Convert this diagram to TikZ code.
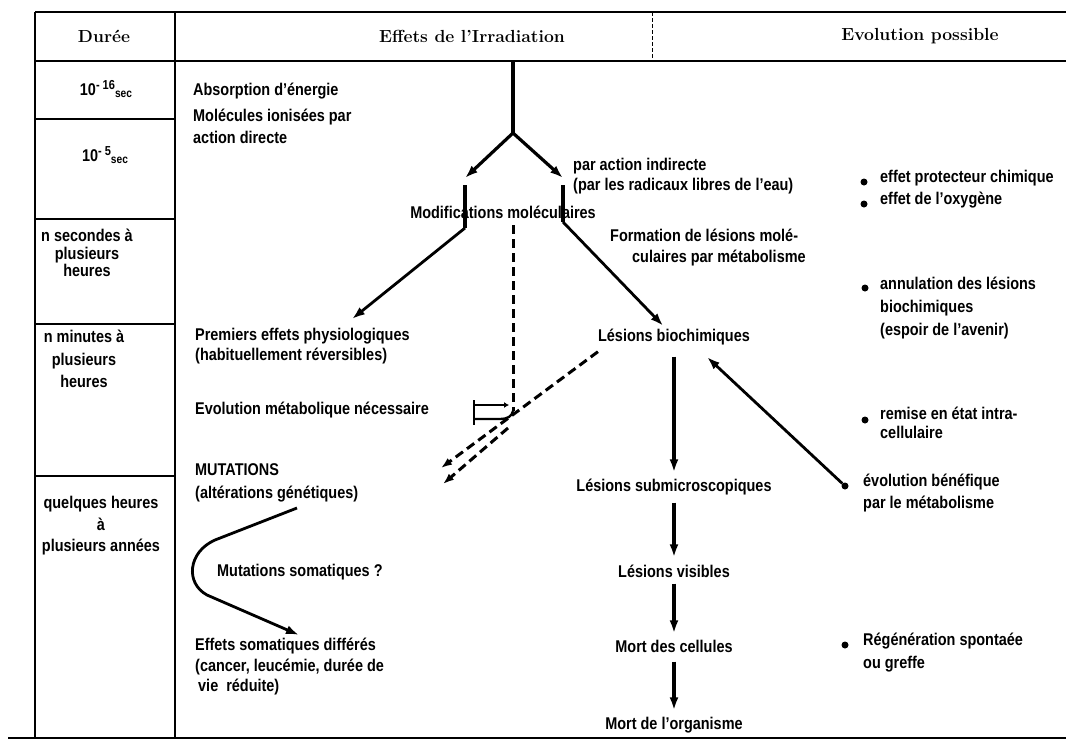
\documentclass[tikz,border=0pt]{standalone}
\usepackage{fontspec}
\usetikzlibrary{arrows.meta}
\newfontfamily\lsans{Liberation Sans Bold}[FakeStretch=0.85]
\newcommand{\mystrut}{\rule[-5pt]{0pt}{19pt}}
\newcommand{\lsz}[1]{\lsans\fontsize{17}{#1}\selectfont}
\begin{document}
\begin{tikzpicture}[x=1pt,y=-1pt,
  rule/.style={line width=2.2pt},
  lbl/.style={font=\lsz{20}, inner sep=0pt, align=left, execute at begin node=\mystrut},
  hdr/.style={font=\fontsize{17.5}{20}\selectfont\bfseries, inner sep=0pt},
  arr/.style={line width=3.2pt, -{Latex[length=13pt,width=9pt]}},
  shaft/.style={line width=3.4pt},
  dsh/.style={line width=3pt, dash pattern=on 9pt off 5pt},
  bul/.style={circle, fill, inner sep=0pt, minimum size=7pt}
]
\fill[white] (0,0) rectangle (1066,748);
\path[use as bounding box] (0,0) rectangle (1066,748);

% table
\draw[rule] (35,12) -- (1066,12);
\draw[rule] (35,61) -- (1066,61);
\draw[rule] (35,12) -- (35,738);
\draw[rule] (175,12) -- (175,738);
\draw[line width=1pt, dash pattern=on 4pt off 2pt] (652,12) -- (652,61);
\draw[rule] (35,119) -- (175,119);
\draw[rule] (35,219) -- (175,219);
\draw[rule] (35,324) -- (175,324);
\draw[rule] (35,476) -- (175,476);
\draw[rule] (8,738) -- (1066,738);

% headers
\node[hdr] (hd) at (104,36) {Durée};
\node[hdr] (he) at (472,36) {Effets de l'Irradiation};
\node[hdr] (hv) at (920,36) {Evolution possible};

% time column
\node[lbl] (t1) at (106,90) {10\raisebox{6pt}{\fontsize{13}{13}\selectfont - 16}\raisebox{-2pt}{\fontsize{12}{12}\selectfont sec}};
\node[lbl] (t2) at (105,157) {10\raisebox{6pt}{\fontsize{13}{13}\selectfont - 5}\raisebox{-2pt}{\fontsize{12}{12}\selectfont sec}};
\node[lbl, font=\lsz{17.5}, align=center, anchor=north] (t3) at (87,229) {n secondes à\\plusieurs\\heures};
\node[lbl, font=\lsz{22.5}, align=center, anchor=north] (t4) at (84,330) {n minutes à\\plusieurs\\heures};
\node[lbl, font=\lsz{21.5}, align=center, anchor=north] (t5) at (101,496) {quelques heures\\à\\plusieurs années};

% centre column texts
\node[lbl, anchor=west] (abs) at (193,91) {Absorption d’énergie};
\node[lbl, font=\lsz{22}, anchor=north west] (molec) at (193,109) {Molécules ionisées par\\action directe};
\node[lbl, anchor=north west] (indir) at (573,158) {par action indirecte\\(par les radicaux libres de l’eau)};
\node[lbl] (modif) at (503,214) {Modifications moléculaires};
\node[lbl, font=\lsz{21}, anchor=north west] (form) at (610,229) {Formation de lésions molé-\\\hspace*{22pt}culaires par métabolisme};
\node[lbl, anchor=north west] (prem) at (195,328) {Premiers effets physiologiques\\(habituellement réversibles)};
\node[lbl] (lesbio) at (674,337) {Lésions biochimiques};
\node[lbl, anchor=west] (evmet) at (195,410) {Evolution métabolique nécessaire};
\node[lbl, font=\lsz{23}, anchor=north west] (mut) at (195,463) {MUTATIONS\\(altérations génétiques)};
\node[lbl, anchor=west] (msom) at (217,572) {Mutations somatiques ?};
\node[lbl, font=\lsz{20.5}, anchor=north west] (esom) at (195,638) {Effets somatiques différés\\(cancer, leucémie, durée de\\\hspace*{3pt}vie\ \ réduite)};
\node[lbl] (lessub) at (674,487) {Lésions submicroscopiques};
\node[lbl] (lesvis) at (674,573) {Lésions visibles};
\node[lbl] (mortcel) at (674,648) {Mort des cellules};
\node[lbl] (mortorg) at (674,725) {Mort de l’organisme};

% right column
\node[bul] (b1) at (864,182) {};
\node[lbl, anchor=west] (e1) at (880,178) {effet protecteur chimique};
\node[bul] (b2) at (864,204) {};
\node[lbl, anchor=west] (e2) at (880,200) {effet de l’oxygène};
\node[bul] (b3) at (865,288) {};
\node[lbl, font=\lsz{23}, anchor=north west] (e3) at (880,277) {annulation des lésions\\biochimiques\\(espoir de l’avenir)};
\node[bul] (b4) at (865,420) {};
\node[lbl, font=\lsz{19}, anchor=north west] (e4) at (880,407) {remise en état intra-\\cellulaire};
\node[bul] (b5) at (845,486) {};
\node[lbl, font=\lsz{22}, anchor=north west] (e5) at (863,474) {évolution bénéfique\\par le métabolisme};
\node[bul] (b6) at (845,645) {};
\node[lbl, font=\lsz{23}, anchor=north west] (e6) at (863,633) {Régénération spontaée\\ou greffe};

% fork
\coordinate (top) at (513,61);
\coordinate (jn) at (513,133);
\coordinate (lt) at (465,178);
\coordinate (rt) at (563,178);
\coordinate (l1) at (465,185);
\coordinate (l2) at (465,228);
\coordinate (r1) at (563,185);
\coordinate (r2) at (563,222);
\coordinate (ptip) at (352,319);
\draw[shaft] (top) -- (jn);
\draw[arr] (jn) -- (lt);
\draw[arr] (jn) -- (rt);
\draw[shaft] (l1) -- (l2);
\draw[shaft] (r1) -- (r2);
\draw[arr, line width=2.8pt] (l2) -- (ptip);
\draw[arr, line width=2.8pt, shorten >=2pt] (r2) -- (lesbio);

% chain
\draw[arr, shorten <=10pt, shorten >=5pt] (lesbio) -- (lessub);
\draw[arr, shorten <=6pt, shorten >=6pt] (lessub) -- (lesvis);
\draw[arr, shorten <=1pt, shorten >=5pt] (lesvis) -- (mortcel);
\draw[arr, shorten <=4pt, shorten >=5pt] (mortcel) -- (mortorg);

% return arrow
\coordinate (btip) at (707,357);
\draw[arr, line width=2.8pt] (b5) -- (btip);

% dashed
\coordinate (dv1) at (513,225);
\coordinate (dv2) at (513,411);
\draw[dsh] (dv1) -- (dv2);
\coordinate (d1t) at (441,468);
\draw[dsh, -{Latex[length=11pt,width=8pt]}] ([yshift=-5pt]lesbio.south west) -- (d1t);
\coordinate (d2s) at (508,428);
\coordinate (d2t) at (443,484);
\draw[dsh, -{Latex[length=11pt,width=8pt]}] (d2s) -- (d2t);

% bracket
\coordinate (bk1) at (509,405);
\coordinate (bk2) at (474,405);
\coordinate (bk3) at (474,400);
\coordinate (bk4) at (474,425);
\coordinate (bk5) at (474,419);
\coordinate (bk6) at (500,419);
\draw[line width=2.8pt] (bk3) -- (bk4);
\draw[line width=2.4pt, -{Latex[length=5pt,width=6pt]}] (bk2) -- (bk1);
\draw[line width=2.4pt] (bk5) -- (bk6) .. controls (508,419) and (512,416) .. (dv2);

% curved arrow
\coordinate (c1) at (297,508);
\coordinate (c2) at (299,635);
\draw[arr, line width=2.8pt] (c1) -- (215,540) .. controls (188,552) and (185,583) .. (207,595) -- (c2);
\end{tikzpicture}
\end{document}
